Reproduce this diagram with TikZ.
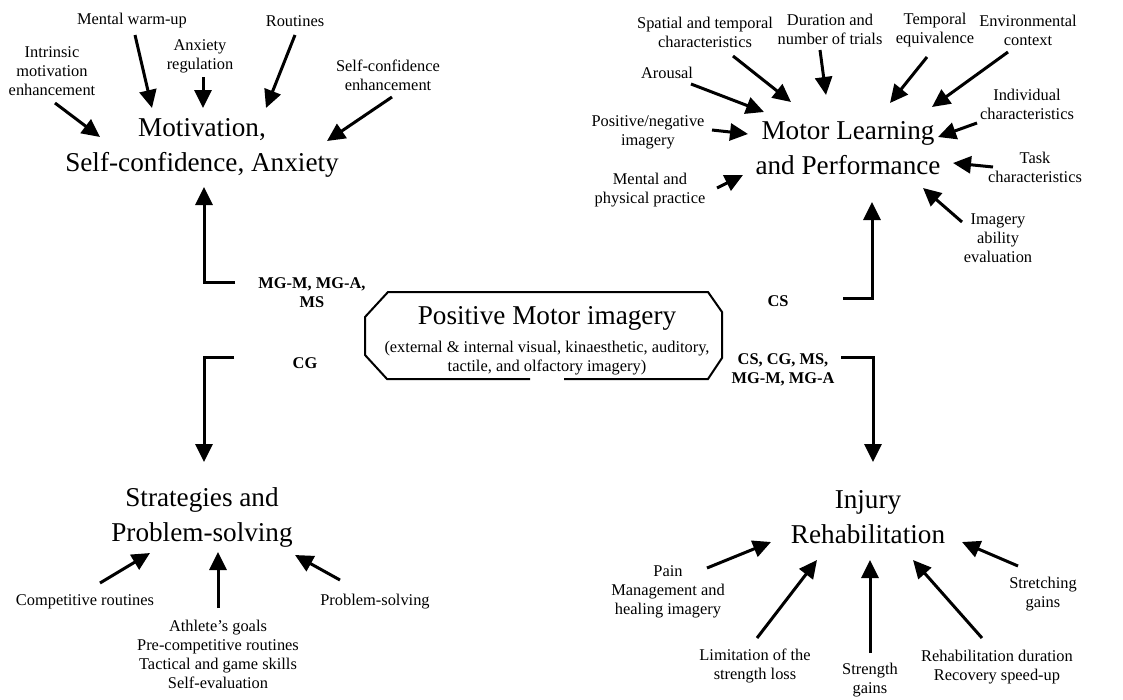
\documentclass[tikz,border=0pt]{standalone}
\usepackage{fontspec}
\setmainfont{Liberation Serif}
\usetikzlibrary{arrows.meta}
\begin{document}
\begin{tikzpicture}[x=1pt,y=-1pt,
  lbl/.style={font=\fontsize{16.4}{19}\selectfont, align=center, inner sep=0pt},
  ttl/.style={font=\fontsize{27.2}{35}\selectfont, align=center, inner sep=0pt},
  codes/.style={font=\bfseries\fontsize{16.4}{19}\selectfont, align=center, inner sep=0pt},
  arr/.style={line width=3pt, -{Triangle[length=18pt,width=17pt]}},
  octo/.style={line width=2pt, line join=miter}]
\useasboundingbox (0,0) rectangle (1123,699);

% ---------- central box ----------
\draw[octo] (530,379) -- (387,379) -- (365,355) -- (365,317) -- (388,292)
  -- (708,292) -- (722,312) -- (722,358) -- (708,379) -- (564,379);
\node[ttl] (pmi) at (547,318) {Positive Motor imagery};
\node[lbl] (pmisub) at (547,358) {(external \& internal visual, kinaesthetic, auditory,\\tactile, and olfactory imagery)};

% ---------- four outcome areas ----------
\node[ttl] (mot) at (202,148) {Motivation,\\Self-confidence, Anxiety};
\node[ttl] (mlp) at (848,148.5) {Motor Learning\\and Performance};
\node[ttl] (strat) at (202,517.5) {Strategies and\\Problem-solving};
\node[ttl] (inj) at (868,517.5) {Injury\\Rehabilitation};

% ---------- imagery-type codes and elbow connectors ----------
\node[codes] (c1) at (312,292.5) {MG-M, MG-A,\\MS};
\node[codes] (c2) at (305,363) {CG};
\node[codes] (c3) at (778,301) {CS};
\node[codes] (c4) at (783,370) {CS, CG, MS,\\MG-M, MG-A};

\coordinate (e1s) at (235,282); \coordinate (e1t) at (204,187);
\coordinate (e2s) at (234,357); \coordinate (e2t) at (204,462);
\coordinate (e3s) at (843,298); \coordinate (e3t) at (872,202);
\coordinate (e4s) at (841,357); \coordinate (e4t) at (873,462);
\draw[arr] (e1s) -| (e1t);
\draw[arr] (e2s) -| (e2t);
\draw[arr] (e3s) -| (e3t);
\draw[arr] (e4s) -| (e4t);

% ---------- motivation factors ----------
\node[lbl] (mw) at (132,21) {Mental warm-up};
\node[lbl] (rt) at (295,21) {Routines};
\node[lbl] (ar) at (200,56) {Anxiety\\regulation};
\node[lbl] (imo) at (52,71) {Intrinsic\\motivation\\enhancement};
\node[lbl] (sce) at (388,75) {Self-confidence\\enhancement};
\coordinate (mwa) at (135,35);  \coordinate (mwb) at (152,108);
\coordinate (ara) at (203,77);  \coordinate (arb) at (203,108);
\coordinate (rta) at (295,35);  \coordinate (rtb) at (266,108);
\coordinate (ima) at (55,103);  \coordinate (imb) at (100,137);
\coordinate (sca) at (392,97);  \coordinate (scb) at (327,141);
\draw[arr] (mwa) -- (mwb);
\draw[arr] (ara) -- (arb);
\draw[arr] (rta) -- (rtb);
\draw[arr] (ima) -- (imb);
\draw[arr] (sca) -- (scb);

% ---------- motor learning factors ----------
\node[lbl] (stc) at (705,32.5) {Spatial and temporal\\characteristics};
\node[lbl] (dur) at (830,29) {Duration and\\number of trials};
\node[lbl] (teq) at (935,30) {Temporal\\equivalence};
\node[lbl] (env) at (1028,30) {Environmental\\context};
\node[lbl] (aro) at (667,73) {Arousal};
\node[lbl] (ind) at (1027,104.5) {Individual\\characteristics};
\node[lbl] (pni) at (648,132) {Positive/negative\\imagery};
\node[lbl] (tsk) at (1035,167.5) {Task\\characteristics};
\node[lbl] (mpp) at (650,190) {Mental and\\physical practice};
\node[lbl] (iae) at (998,238) {Imagery\\ability\\evaluation};
\coordinate (sta) at (733,56);  \coordinate (stb) at (791,102);
\coordinate (dua) at (820,50);  \coordinate (dub) at (826,95);
\coordinate (tea) at (927,57);  \coordinate (teb) at (890,103);
\coordinate (ena) at (1008,52); \coordinate (enb) at (932,107);
\coordinate (aoa) at (691,84);  \coordinate (aob) at (764,112);
\coordinate (ina) at (977,123); \coordinate (inb) at (938,137);
\coordinate (pna) at (712,130); \coordinate (pnb) at (748,134);
\coordinate (tka) at (993,167); \coordinate (tkb) at (953,163);
\coordinate (mpa) at (717,188); \coordinate (mpb) at (743,175);
\coordinate (iaa) at (962,222); \coordinate (iab) at (923,188);
\draw[arr] (sta) -- (stb);
\draw[arr] (dua) -- (dub);
\draw[arr] (tea) -- (teb);
\draw[arr] (ena) -- (enb);
\draw[arr] (aoa) -- (aob);
\draw[arr] (ina) -- (inb);
\draw[arr] (pna) -- (pnb);
\draw[arr] (tka) -- (tkb);
\draw[arr] (mpa) -- (mpb);
\draw[arr] (iaa) -- (iab);

% ---------- strategy factors ----------
\node[lbl] (cr) at (85,602) {Competitive routines};
\node[lbl] (psv) at (375,602) {Problem-solving};
\node[lbl] (ag) at (218,654.5) {Athlete’s goals\\Pre-competitive routines\\Tactical and game skills\\Self-evaluation};
\coordinate (cra) at (100,583); \coordinate (crb) at (150,553);
\coordinate (aga) at (218,608); \coordinate (agb) at (218,552);
\coordinate (psa) at (340,580); \coordinate (psb) at (295,555);
\draw[arr] (cra) -- (crb);
\draw[arr] (aga) -- (agb);
\draw[arr] (psa) -- (psb);

% ---------- rehabilitation factors ----------
\node[lbl] (pain) at (668,591.5) {Pain\\Management and\\healing imagery};
\node[lbl] (lim) at (755,666) {Limitation of the\\strength loss};
\node[lbl] (stg) at (870,680.5) {Strength\\gains};
\node[lbl] (rdu) at (997,667) {Rehabilitation duration\\Recovery speed-up};
\node[lbl] (str) at (1043,594.5) {Stretching\\gains};
\coordinate (paa) at (707,568); \coordinate (pab) at (771,542);
\coordinate (lia) at (757,638); \coordinate (lib) at (817,560);
\coordinate (sga) at (870,653); \coordinate (sgb) at (870,560);
\coordinate (rda) at (982,638); \coordinate (rdb) at (913,560);
\coordinate (sra) at (1018,566); \coordinate (srb) at (962,542);
\draw[arr] (paa) -- (pab);
\draw[arr] (lia) -- (lib);
\draw[arr] (sga) -- (sgb);
\draw[arr] (rda) -- (rdb);
\draw[arr] (sra) -- (srb);
\end{tikzpicture}
\end{document}
